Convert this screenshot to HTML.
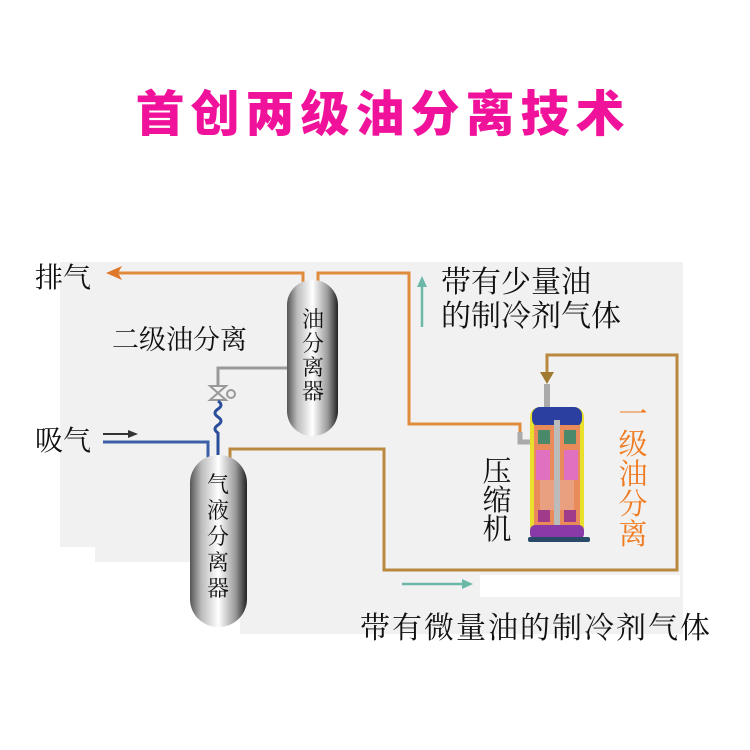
<!DOCTYPE html>
<html><head><meta charset="utf-8"><style>
html,body{margin:0;padding:0;background:#fff;width:750px;height:750px;overflow:hidden}
svg{display:block}
.t{font-family:"Liberation Serif","Noto Serif CJK SC","Noto Sans CJK SC",serif;fill:#111}
</style></head><body>
<svg width="750" height="750" viewBox="0 0 750 750" xmlns="http://www.w3.org/2000/svg">
<defs>
<linearGradient id="cap" x1="0" x2="1" y1="0" y2="0">
<stop offset="0" stop-color="#555"/><stop offset="0.2" stop-color="#bbb"/><stop offset="0.5" stop-color="#fff"/><stop offset="0.8" stop-color="#999"/><stop offset="1" stop-color="#222"/>
</linearGradient>
</defs>
<text x="383" y="131" text-anchor="middle" font-family="'Noto Sans CJK SC',sans-serif" font-weight="900" font-size="49" fill="#f0129a" letter-spacing="6">首创两级油分离技术</text>
<!-- background -->
<path d="M60 262 H683 V634 H240 V562 H95 V547 H60 Z" fill="#f1f1f1"/>
<rect x="480" y="575" width="200" height="22" fill="#fff"/>
<!-- orange pipes -->
<g fill="none" stroke="#e08a3c" stroke-width="3">
<path d="M118 273 H303 V285"/>
<path d="M318 285 V273 H409 V424 H520 V436"/>
</g>
<path d="M106 273 L122 266 L118 273 L122 280 Z" fill="#e0782c"/>
<path d="M520 432 V442 H532" fill="none" stroke="#aaa" stroke-width="5"/>
<!-- gray to valve -->
<path d="M290 368 H218 V385" fill="none" stroke="#999" stroke-width="3"/>
<path d="M210 386 L226 386 L210 400 L226 400 Z" fill="none" stroke="#999" stroke-width="2"/>
<circle cx="231" cy="394" r="4" fill="none" stroke="#999" stroke-width="2"/>
<path d="M218 401 q6 4 0 8 q-6 4 0 8 q6 4 0 8 q-6 4 0 8 V460" fill="none" stroke="#2a4f9a" stroke-width="3"/>
<!-- blue suction -->
<path d="M103 442 H208 V460" fill="none" stroke="#3a5fa8" stroke-width="3"/>
<path d="M103 434 H132" stroke="#333" stroke-width="2"/>
<path d="M138 434 L128 430 L128 438 Z" fill="#333"/>
<!-- brown -->
<g fill="none" stroke="#b8893e" stroke-width="3">
<path d="M230 460 V449 H384 V570 H677 V355 H547 V372"/>
</g>
<path d="M540 372 L554 372 L547 384 Z" fill="#a07a30"/>
<rect x="544" y="384" width="6" height="24" fill="#aaa"/>
<!-- teal arrows -->
<path d="M422 327 V285" stroke="#6bb8a8" stroke-width="2.5"/>
<path d="M422 276 L417 287 L427 287 Z" fill="#6bb8a8"/>
<path d="M402 584 H464" stroke="#6bb8a8" stroke-width="2.5"/>
<path d="M473 584 L462 579 L462 589 Z" fill="#6bb8a8"/>
<!-- capsules -->
<rect x="287" y="280" width="51" height="156" rx="25" fill="url(#cap)"/>
<rect x="190" y="455" width="57" height="172" rx="28" fill="url(#cap)"/>
<!-- compressor -->
<g>
<rect x="530" y="407" width="54" height="130" rx="10" fill="#e8e02a"/>
<rect x="532" y="407" width="50" height="20" rx="8" fill="#2a3fa0"/>
<rect x="534" y="425" width="46" height="100" fill="#e88a5a"/>
<rect x="538" y="430" width="12" height="14" fill="#4a8a6a"/>
<rect x="564" y="430" width="12" height="14" fill="#4a8a6a"/>
<rect x="536" y="450" width="14" height="30" fill="#e070c0"/>
<rect x="564" y="450" width="14" height="30" fill="#e070c0"/>
<rect x="540" y="480" width="34" height="30" fill="#e8a080"/>
<rect x="538" y="510" width="12" height="12" fill="#a03a8a"/>
<rect x="564" y="510" width="12" height="12" fill="#a03a8a"/>
<rect x="554" y="420" width="6" height="110" fill="#bbb"/>
<rect x="530" y="525" width="54" height="14" rx="5" fill="#8a3aa8"/>
<rect x="528" y="537" width="62" height="5" rx="2" fill="#2a4a6a"/>
</g>
<!-- labels -->
<g class="t">
<text x="35" y="287" font-size="28">排气</text>
<text x="35" y="450" font-size="28">吸气</text>
<text x="112" y="349" font-size="27">二级油分离</text>
<text x="441" y="292" font-size="30">带有少量油</text>
<text x="441" y="326" font-size="30">的制冷剂气体</text>
<text x="360" y="638" font-size="30" letter-spacing="2">带有微量油的制冷剂气体</text>
<g font-size="22" text-anchor="middle">
<text x="313" y="327">油</text><text x="313" y="351">分</text><text x="313" y="375">离</text><text x="313" y="399">器</text>
<text x="218" y="492">气</text><text x="218" y="518">液</text><text x="218" y="544">分</text><text x="218" y="570">离</text><text x="218" y="596">器</text>
</g>
<g font-size="29" text-anchor="middle">
<text x="497" y="481">压</text><text x="497" y="510">缩</text><text x="497" y="539">机</text>
</g>
<g font-size="29" text-anchor="middle" fill="#f07a20">
<text x="633" y="424">一</text><text x="633" y="454">级</text><text x="633" y="484">油</text><text x="633" y="514">分</text><text x="633" y="544">离</text>
</g>
</g>
</svg>
</body></html>
